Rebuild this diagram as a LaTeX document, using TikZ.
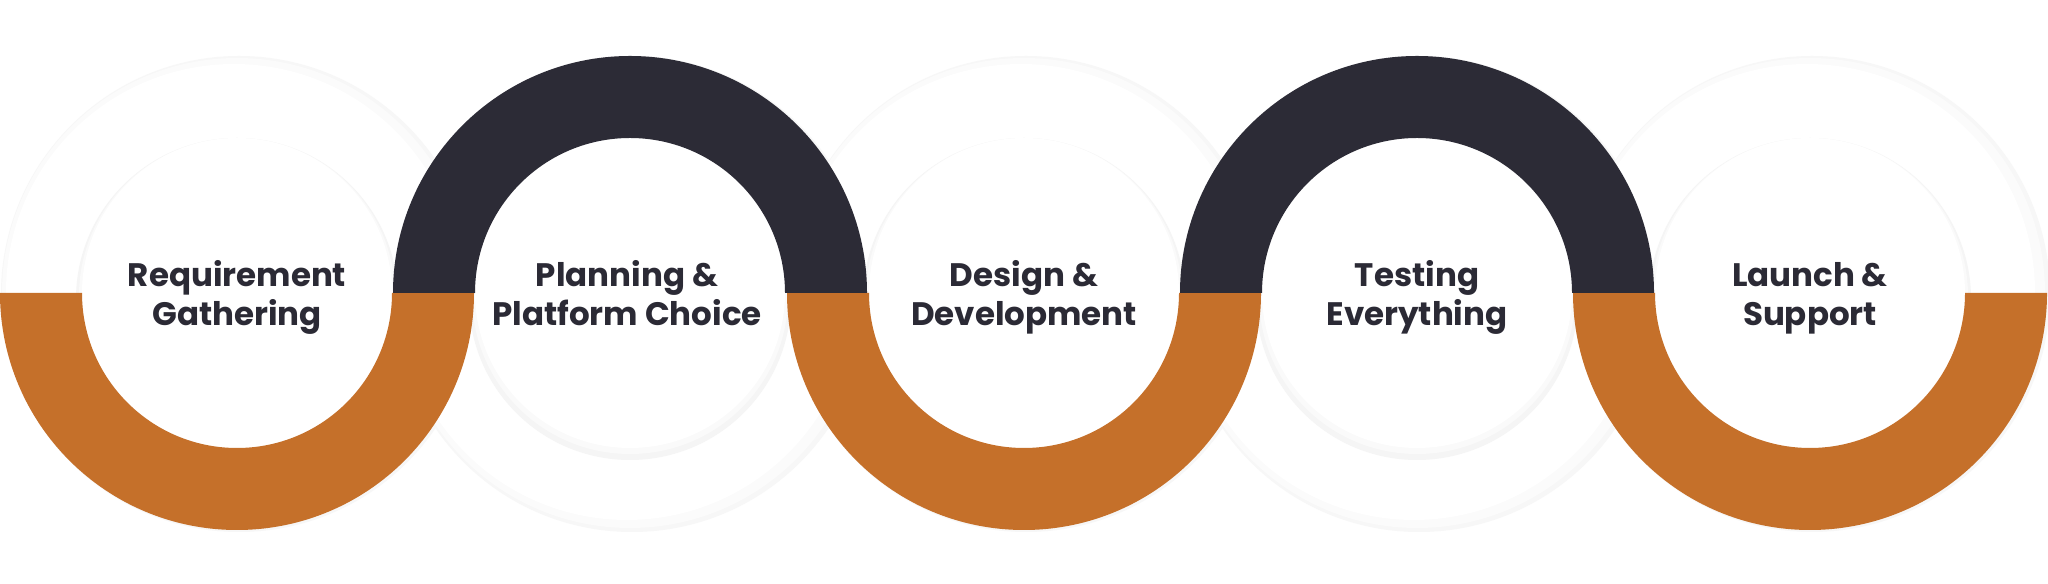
\documentclass[tikz,border=0pt]{standalone}
\usepackage{fontspec}
\setmainfont{Poppins}
\usepackage{xcolor}
\usepackage{tikz}
\usetikzlibrary{positioning,calc}
\definecolor{ringorange}{HTML}{C5702A}
\definecolor{ringdark}{HTML}{2C2B36}
\definecolor{labeltext}{HTML}{2B2A35}

\begin{document}
\begin{tikzpicture}[x=0.02cm, y=0.02cm,
    stagelabel/.style={align=center, text=labeltext,
        font=\fontsize{18.5}{22.2}\selectfont\bfseries}]
    % Canvas
    \useasboundingbox (0,0) rectangle (2048,584);
    \fill[white] (0,0) rectangle (2048,584);

    % Soft white discs with faint shadows behind every stage
    \foreach \cx in {237, 630, 1024, 1417, 1810} {
        \fill[black!3] (\cx+2,290) circle (238);
        \fill[black!1.5] (\cx,291) circle (235);
        \fill[white] (\cx-3,292) circle (228);
        \fill[black!4] (\cx,285) circle (161);
        \fill[black!2] (\cx,288) circle (158);
        \fill[white] (\cx,291) circle (155);
    }

    % Orange half rings (bottom)
    \foreach \cx in {237, 1024, 1810} {
        \fill[ringorange] (\cx-237,291) arc[start angle=180, end angle=360, radius=237]
            -- (\cx+155,291) arc[start angle=0, end angle=-180, radius=155] -- cycle;
    }

    % Dark half rings (top)
    \foreach \cx in {630, 1417} {
        \fill[ringdark] (\cx-237,291) arc[start angle=180, end angle=0, radius=237]
            -- (\cx+155,291) arc[start angle=0, end angle=180, radius=155] -- cycle;
    }

    % Stage labels
    \node[stagelabel] (req)    at (237,286)  {\strut Requirement\\\strut Gathering};
    \node[stagelabel] (plan)   at (627,286)  {\strut Planning \&\\\strut Platform Choice};
    \node[stagelabel] (dev)    at (1024,286) {\strut Design \&\\\strut Development};
    \node[stagelabel] (test)   at (1417,286) {\strut Testing\\\strut Everything};
    \node[stagelabel] (launch) at (1810,286) {\strut Launch \&\\\strut Support};

\end{tikzpicture}
\end{document}
